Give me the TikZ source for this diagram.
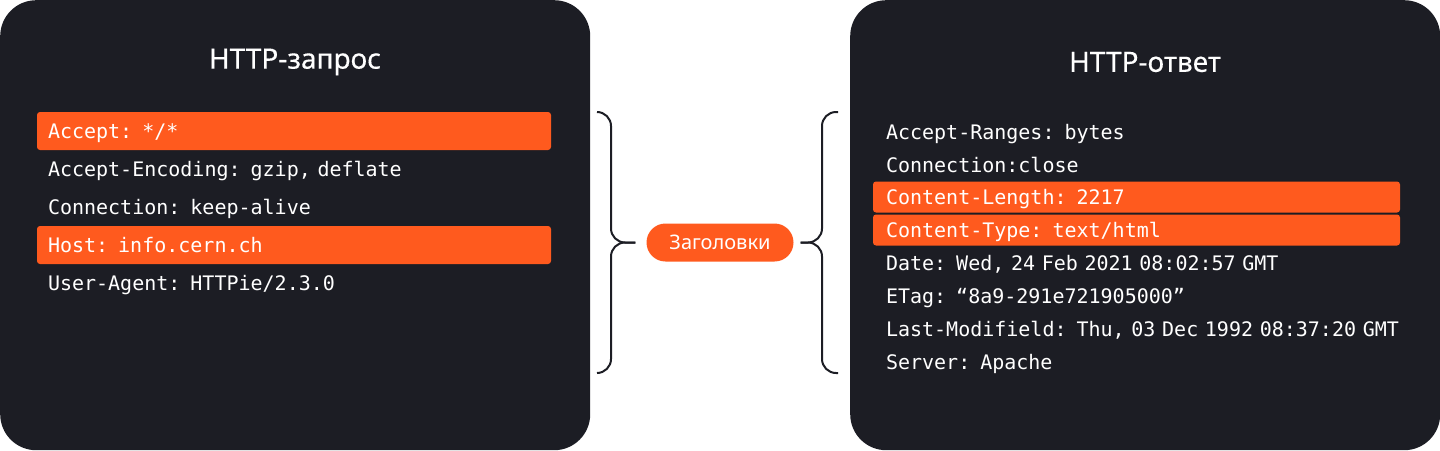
\documentclass[tikz,border=0pt]{standalone}
\usepackage{fontspec}
\setmainfont{Noto Sans}
\setmonofont{DejaVu Sans Mono}
\usepackage{xcolor}
\definecolor{cDark}{HTML}{1C1D24}
\definecolor{cOrange}{HTML}{FF5A1E}
\usepackage{tikz}
\usetikzlibrary{positioning}
\tikzset{
  panel-box/.style={fill=cDark,rounded corners=36pt,minimum width=590pt,
    minimum height=450pt,inner sep=0pt},
  panel-title/.style={text=white,
    font=\fontsize{28}{33}\selectfont\addfontfeature{FakeBold=0.4}},
  % строки заголовков: слева шаг 38, справа шаг 33
  req-row/.style={text=white,font=\ttfamily\fontsize{20}{23}\selectfont,
    minimum height=38pt,inner xsep=11pt,inner ysep=0pt,text width=492pt,
    align=left,text height=16pt,text depth=2pt,outer sep=0pt},
  resp-row/.style={req-row,minimum height=33pt,inner xsep=13pt,text width=501pt},
  row-mark/.style={fill=cOrange,rounded corners=3pt},
  resp-mark/.style={row-mark,minimum height=31pt},
  tag-pill/.style={fill=cOrange,text=white,rounded corners=19pt,
    minimum width=147pt,minimum height=38pt,font=\fontsize{20}{24}\selectfont},
  brace-line/.style={draw=cDark,line width=2pt,rounded corners=14pt},
}
\begin{document}
\begin{tikzpicture}[x=1pt,y=-1pt]
  \useasboundingbox (0,0) rectangle (1440,450);
  % панели
  \node[panel-box,anchor=north west] (req) at (0,0) {};
  \node[panel-box,anchor=north west] (resp) at (850,0) {};
  \node[panel-title] (req-title) at (295,62) {HTTP-запрос};
  \node[panel-title] (resp-title) at (1145,62) {HTTP-ответ};
  % запрос
  \node[req-row,row-mark,anchor=north west] (q1) at (37,112) {Accept: */*};
  \node[req-row,below=0pt of q1] (q2) {Accept-Encoding: gzip, deflate};
  \node[req-row,below=0pt of q2] (q3) {Connection: keep-alive};
  \node[req-row,row-mark,below=0pt of q3] (q4) {Host: info.cern.ch};
  \node[req-row,below=0pt of q4] (q5) {User-Agent: HTTPie/2.3.0};
  % ответ
  \node[resp-row,anchor=north west] (a1) at (873,115.5) {Accept-Ranges: bytes};
  \node[resp-row,below=0pt of a1] (a2) {Connection:close};
  \node[resp-row,resp-mark,below=0pt of a2] (a3) {Content-Length: 2217};
  \node[resp-row,resp-mark,below=2pt of a3] (a4) {Content-Type: text/html};
  \node[resp-row,below=1pt of a4] (a5) {Date: Wed, 24 Feb 2021 08:02:57 GMT};
  \node[resp-row,below=0pt of a5] (a6) {ETag: “8a9-291e721905000”};
  \node[resp-row,below=0pt of a6] (a7) {\mbox{Last-Modifield: Thu, 03 Dec 1992 08:37:20 GMT}};
  \node[resp-row,below=0pt of a7] (a8) {Server: Apache};
  % скобки
  \node[tag-pill] (hdrs) at (720,242.5) {Заголовки};
  \coordinate (lb-top) at (597,112);
  \coordinate (lb-bot) at (597,373);
  \coordinate (lb-mid) at (611,242.5);
  \coordinate (rb-top) at (838,112);
  \coordinate (rb-bot) at (838,373);
  \coordinate (rb-mid) at (822,242.5);
  \draw[brace-line] (lb-top) -| (lb-mid) -- ([xshift=-11pt]hdrs.west);
  \draw[brace-line] (lb-bot) -| (lb-mid) -- ([xshift=-11pt]hdrs.west);
  \draw[brace-line] (rb-top) -| (rb-mid) -- ([xshift=7pt]hdrs.east);
  \draw[brace-line] (rb-bot) -| (rb-mid) -- ([xshift=7pt]hdrs.east);
\end{tikzpicture}
\end{document}
